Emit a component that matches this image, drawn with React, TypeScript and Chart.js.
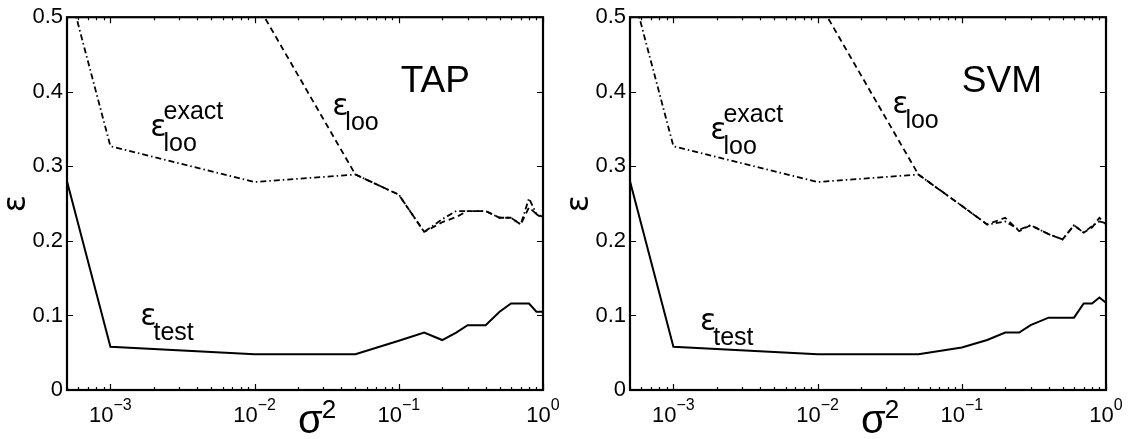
import React, { useEffect, useRef } from 'react';
import { Chart, registerables } from 'chart.js';

Chart.register(...registerables);

const FONT = '"Liberation Sans", Arial, Helvetica, sans-serif';
const GREEK = '"DejaVu Sans", "Liberation Sans", sans-serif';

// sigma^2 grid (x values)
const sigma2 = [5e-4, 1e-3, 1e-2, 5e-2, 0.1, 0.15, 0.2, 0.25, 0.3, 0.4, 0.5, 0.6, 0.7, 0.8, 0.9, 1.0];

// TAP panel
const tapTest = [0.28, 0.058, 0.048, 0.048, 0.066, 0.077, 0.067, 0.077, 0.087, 0.087, 0.105, 0.116, 0.116, 0.116, 0.105, 0.105];
const tapLoo = [0.9, 0.8, 0.523, 0.289, 0.262, 0.212, 0.225, 0.232, 0.24, 0.24, 0.231, 0.231, 0.222, 0.245, 0.236, 0.232];
const tapLooExact = [0.547, 0.327, 0.279, 0.289, 0.262, 0.212, 0.229, 0.24, 0.24, 0.24, 0.231, 0.231, 0.222, 0.257, 0.236, 0.23];

// SVM panel
const svmTest = [0.28, 0.058, 0.048, 0.048, 0.057, 0.067, 0.077, 0.077, 0.087, 0.097, 0.097, 0.097, 0.116, 0.116, 0.124, 0.117];
const svmLoo = [0.9, 0.8, 0.523, 0.289, 0.247, 0.222, 0.231, 0.213, 0.221, 0.209, 0.202, 0.221, 0.211, 0.218, 0.231, 0.222];
const svmLooExact = [0.547, 0.327, 0.279, 0.289, 0.247, 0.222, 0.226, 0.215, 0.221, 0.209, 0.202, 0.221, 0.211, 0.22, 0.226, 0.224];

// axes
const xMin = 5e-4;
const xMax = 1;
const xTickValues = [1e-3, 1e-2, 1e-1, 1];
const xTickExponents = ['\u22123', '\u22122', '\u22121', '0'];
const yTickValues = [0, 0.1, 0.2, 0.3, 0.4, 0.5];
const yTickLabels = ['0', '0.1', '0.2', '0.3', '0.4', '0.5'];

type Note = { x: number; y: number; sub?: string; sup?: string };

type PanelCfg = {
  title: string;
  titlePos: { x: number; y: number };
  test: number[];
  loo: number[];
  looExact: number[];
  notes: Note[];
  axisWidth: number;
  padRight: number;
};

const panels: PanelCfg[] = [
  {
    title: 'TAP',
    titlePos: { x: 0.103, y: 0.4 },
    test: tapTest,
    loo: tapLoo,
    looExact: tapLooExact,
    notes: [
      { x: 0.0345, y: 0.369, sub: 'loo' },
      { x: 1.89e-3, y: 0.34, sub: 'loo', sup: 'exact' },
      { x: 1.61e-3, y: 0.0867, sub: 'test' },
    ],
    axisWidth: 67,
    padRight: 22,
  },
  {
    title: 'SVM',
    titlePos: { x: 0.1, y: 0.4 },
    test: svmTest,
    loo: svmLoo,
    looExact: svmLooExact,
    notes: [
      { x: 0.0329, y: 0.371, sub: 'loo' },
      { x: 1.8e-3, y: 0.337, sub: 'loo', sup: 'exact' },
      { x: 1.53e-3, y: 0.08, sub: 'test' },
    ],
    axisWidth: 65,
    padRight: 23,
  },
];

function pts(vals: number[]) {
  return sigma2.map((x, i) => ({ x, y: vals[i] }));
}

function drawEps(ctx: CanvasRenderingContext2D, px: number, py: number, sub?: string, sup?: string) {
  ctx.textAlign = 'left';
  ctx.textBaseline = 'alphabetic';
  ctx.font = `30px ${GREEK}`;
  ctx.fillText('\u03b5', px, py);
  const w = ctx.measureText('\u03b5').width;
  ctx.font = `25px ${FONT}`;
  if (sub) ctx.fillText(sub, px + w - 3, py + 15);
  if (sup) ctx.fillText(sup, px + w - 3, py - 17);
}

function makeAxesPlugin(cfg: PanelCfg) {
  return {
    id: 'matlabAxes',
    afterDatasetsDraw(chart: any) {
      const { ctx, chartArea: a, scales } = chart;
      const xs = scales.x;
      const ys = scales.y;
      ctx.save();
      ctx.strokeStyle = '#000';
      ctx.fillStyle = '#000';

      // inward ticks
      ctx.lineWidth = 1.2;
      ctx.beginPath();
      for (const v of yTickValues) {
        const py = Math.round(ys.getPixelForValue(v)) + 0.5;
        ctx.moveTo(a.left, py);
        ctx.lineTo(a.left + 6, py);
        ctx.moveTo(a.right - 6, py);
        ctx.lineTo(a.right, py);
      }
      for (let d = -4; d <= 0; d++) {
        for (let k = 1; k <= 9; k++) {
          const v = k * Math.pow(10, d);
          if (v < xMin * (1 - 1e-9) || v > xMax * (1 + 1e-9)) continue;
          const len = k === 1 ? 6 : 3;
          const px = Math.round(xs.getPixelForValue(v)) + 0.5;
          ctx.moveTo(px, a.bottom);
          ctx.lineTo(px, a.bottom - len);
          ctx.moveTo(px, a.top);
          ctx.lineTo(px, a.top + len);
        }
      }
      ctx.stroke();

      // box
      ctx.lineWidth = 2.2;
      ctx.strokeRect(a.left, a.top, a.right - a.left, a.bottom - a.top);

      // x tick labels 10^k
      xTickValues.forEach((v, i) => {
        const px = xs.getPixelForValue(v);
        ctx.font = `22px ${FONT}`;
        const wb = ctx.measureText('10').width;
        ctx.font = `16px ${FONT}`;
        const we = ctx.measureText(xTickExponents[i]).width;
        const start = px - (wb + we) / 2;
        ctx.textAlign = 'left';
        ctx.textBaseline = 'alphabetic';
        ctx.font = `22px ${FONT}`;
        ctx.fillText('10', start, a.bottom + 32);
        ctx.font = `16px ${FONT}`;
        ctx.fillText(xTickExponents[i], start + wb, a.bottom + 20);
      });

      // axis labels
      const cx = (a.left + a.right) / 2;
      ctx.font = `40px ${FONT}`;
      ctx.textAlign = 'left';
      ctx.fillText('\u03c3', cx - 7, a.bottom + 43);
      const ws = ctx.measureText('\u03c3').width;
      ctx.font = `26px ${FONT}`;
      ctx.fillText('2', cx - 7 + ws - 1, a.bottom + 28);

      ctx.save();
      ctx.translate(a.left - 50, (a.top + a.bottom) / 2);
      ctx.rotate(-Math.PI / 2);
      ctx.font = `32px ${GREEK}`;
      ctx.textAlign = 'center';
      ctx.textBaseline = 'middle';
      ctx.fillText('\u03b5', 0, 0);
      ctx.restore();

      // title inside plot
      ctx.font = `37px ${FONT}`;
      ctx.textAlign = 'left';
      ctx.textBaseline = 'alphabetic';
      ctx.fillText(cfg.title, xs.getPixelForValue(cfg.titlePos.x), ys.getPixelForValue(cfg.titlePos.y));

      // epsilon annotations
      for (const n of cfg.notes) {
        drawEps(ctx, xs.getPixelForValue(n.x), ys.getPixelForValue(n.y), n.sub, n.sup);
      }
      ctx.restore();
    },
  };
}

function Panel({ cfg, width }: { cfg: PanelCfg; width: number }) {
  const ref = useRef<HTMLCanvasElement | null>(null);
  useEffect(() => {
    if (!ref.current) return;
    const lineBase = { pointRadius: 0, tension: 0, borderColor: '#000', fill: false };
    const chart = new Chart(ref.current, {
      type: 'line',
      data: {
        datasets: [
          { ...lineBase, label: 'test', data: pts(cfg.test), borderWidth: 2 },
          { ...lineBase, label: 'loo', data: pts(cfg.loo), borderWidth: 1.8, borderDash: [6, 4] },
          { ...lineBase, label: 'loo exact', data: pts(cfg.looExact), borderWidth: 1.8, borderDash: [6, 3, 1.5, 3] },
        ],
      },
      options: {
        animation: false,
        responsive: false,
        devicePixelRatio: 1,
        layout: { padding: { left: 0, right: cfg.padRight, top: 15, bottom: 0 } },
        plugins: { legend: { display: false }, tooltip: { enabled: false }, title: { display: false } },
        scales: {
          x: {
            type: 'logarithmic',
            min: xMin,
            max: xMax,
            grid: { display: false, drawTicks: false },
            border: { display: false },
            ticks: { display: false },
            afterFit: (s: any) => {
              s.height = 49;
            },
          },
          y: {
            type: 'linear',
            min: 0,
            max: 0.5,
            grid: { display: false, drawTicks: false },
            border: { display: false },
            afterBuildTicks: (s: any) => {
              s.ticks = yTickValues.map((v) => ({ value: v }));
            },
            ticks: {
              color: '#000',
              padding: 4,
              font: { family: FONT, size: 22 },
              callback: (_v: any, i: number) => yTickLabels[i],
            },
            afterFit: (s: any) => {
              s.width = cfg.axisWidth;
            },
          },
        },
      },
      plugins: [makeAxesPlugin(cfg)],
    } as any);
    return () => chart.destroy();
  }, [cfg]);
  return <canvas ref={ref} width={width} height={439} style={{ display: 'block', width, height: 439 }} />;
}

export default function App() {
  return (
    <div style={{ position: 'fixed', left: 0, top: 0, width: 1129, height: 439, background: '#fff', display: 'flex' }}>
      <Panel cfg={panels[0]} width={565} />
      <Panel cfg={panels[1]} width={564} />
    </div>
  );
}
